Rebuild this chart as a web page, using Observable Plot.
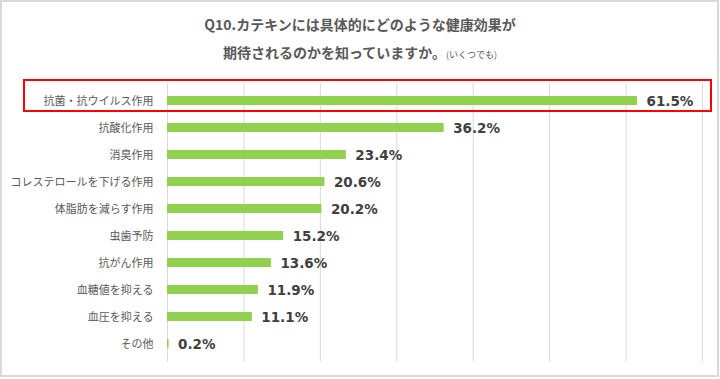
<!DOCTYPE html>
<html><head><meta charset="utf-8">
<script src="https://cdn.jsdelivr.net/npm/d3@7"></script>
<script src="https://cdn.jsdelivr.net/npm/@observablehq/plot@0.6"></script>
<style>
body{margin:0;background:#fff;}
#wrap{position:relative;width:720px;height:379px;overflow:hidden;font-family:"Noto Sans CJK JP",sans-serif;background:#fff;}
#wrap svg{position:absolute;left:0;top:0;}
#frame{position:absolute;left:0;top:0;width:719px;height:377px;box-sizing:border-box;border:2px solid #d9d9d9;pointer-events:none;}
.t{position:absolute;left:0;width:720px;text-align:center;font-weight:bold;font-size:14px;line-height:20px;color:#595959;white-space:nowrap;}
.t small{font-size:9px;font-weight:normal;}
#hl{position:absolute;left:23px;top:78.5px;width:689px;height:33px;box-sizing:border-box;border:2px solid #ff0000;pointer-events:none;}
</style></head>
<body>
<div id="wrap">
  <div id="chart"></div>
  <div class="t" style="top:14px">Q10.カテキンには具体的にどのような健康効果が</div>
  <div class="t" style="top:42px">期待されるのかを知っていますか。<small>(いくつでも)</small></div>
  <div id="hl"></div>
  <div id="frame"></div>
</div>
<script>
const categories = ["抗菌・抗ウイルス作用","抗酸化作用","消臭作用","コレステロールを下げる作用","体脂肪を減らす作用","虫歯予防","抗がん作用","血糖値を抑える","血圧を抑える","その他"];
const values = [61.5, 36.2, 23.4, 20.6, 20.2, 15.2, 13.6, 11.9, 11.1, 0.2];
const xTicks = [0, 10, 20, 30, 40, 50, 60, 70];
const data = categories.map((c, i) => ({category: c, value: values[i]}));

const chart = Plot.plot({
  width: 720, height: 379,
  marginTop: 82.75, marginBottom: 17.4, marginLeft: 167, marginRight: 18,
  style: {background: "transparent"},
  x: {domain: [0, 70], axis: null},
  y: {domain: categories, axis: null, paddingInner: 0.68, paddingOuter: 0.34},
  marks: [
    Plot.ruleX(xTicks, {stroke: "#d9d9d9", strokeWidth: 1}),
    Plot.barX(data, {x: "value", y: "category", fill: "#92d050"}),
    Plot.text(data, {x: "value", y: "category", text: d => d.value.toFixed(1) + "%", textAnchor: "start", dx: 9, dy: 1, fontWeight: "bold", fontSize: 13.5, fill: "#404040", fontFamily: "DejaVu Sans"}),
    Plot.text(data, {x: 0, y: "category", text: "category", textAnchor: "end", dx: -14, fontSize: 11, fill: "#595959", fontFamily: "Noto Sans CJK JP"})
  ]
});
document.getElementById("chart").appendChild(chart);
</script>
</body></html>
